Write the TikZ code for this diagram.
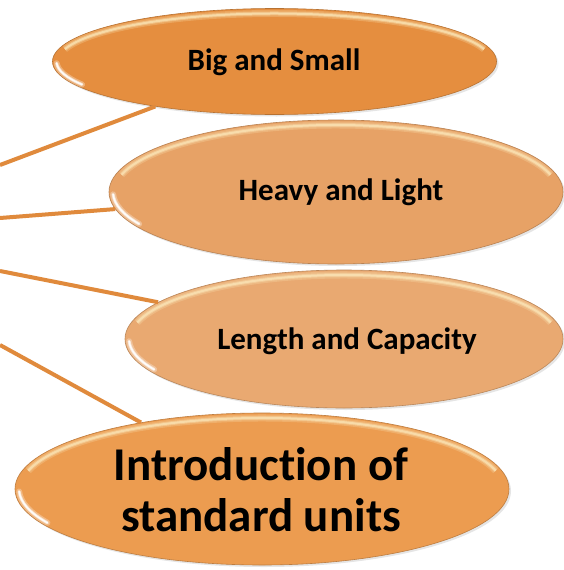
\documentclass[tikz,border=0pt]{standalone}
\usepackage{fontspec}
\setmainfont{Carlito}[Ligatures=NoCommon]
\usetikzlibrary{shapes.geometric,shadows}
\definecolor{lineC}{HTML}{E08A3C}
\definecolor{cA}{HTML}{E58E3F}
\definecolor{cB}{HTML}{E7A266}
\definecolor{cC}{HTML}{E9A971}
\definecolor{cD}{HTML}{EC9C50}
\definecolor{hl}{HTML}{FBE6B8}
\tikzset{
 blob/.style={ellipse, inner sep=0pt, draw=#1!80!black, line width=.6pt, fill=#1,
   drop shadow={opacity=.2,shadow xshift=2pt,shadow yshift=-2pt}},
 conn/.style={draw=lineC, line width=4pt},
 lbl/.style={font=\fontsize{31}{36}\selectfont\bfseries, text=black},
 bigl/.style={font=\fontsize{47}{51}\selectfont\bfseries, align=center, text=black},
}
\newcommand\glossy[4]{%
  \begin{scope}
  \clip (#1,#2) ellipse [x radius=#3, y radius=#4];
  \pgfmathsetmacro\ax{#3-5}\pgfmathsetmacro\ay{#4-5}
  \foreach \w/\o in {7/.25,4/.4,2/.7}{
   \draw[hl, line width=\w pt, opacity=\o] (#1,#2) ++(195:{\ax} and {\ay}) arc[start angle=195,end angle=345,x radius=\ax,y radius=\ay];}
  \pgfmathsetmacro\bx{#3-4}\pgfmathsetmacro\by{#4-4}
  \foreach \w/\o in {6/.3,3/.6,1.5/.9}{
   \draw[white, line width=\w pt, opacity=\o, line cap=round] (#1,#2) ++(152:{\bx} and {\by}) arc[start angle=152,end angle=178,x radius=\bx,y radius=\by];}
  \end{scope}}
\begin{document}
\begin{tikzpicture}[x=1pt,y=-1pt]
\useasboundingbox (0,0) rectangle (564,570);
\fill[white] (0,0) rectangle (564,570);
\node[blob=cA, minimum width=444pt, minimum height=106pt] (e1) at (274.5,61.5) {};
\node[blob=cB, minimum width=454pt, minimum height=144pt] (e2) at (336,192) {};
\node[blob=cC, minimum width=438pt, minimum height=138pt] (e3) at (344,339) {};
\node[blob=cD, minimum width=494pt, minimum height=152pt] (e4) at (262,489) {};
\glossy{274.5}{61.5}{222}{53}
\glossy{336}{192}{227}{72}
\glossy{344}{339}{219}{69}
\glossy{262}{489}{247}{76}
\coordinate (p1) at (0,165);
\coordinate (p2) at (0,218);
\coordinate (p3) at (0,271);
\coordinate (p4) at (0,345);
\draw[conn] (p1) -- (e1);
\draw[conn] (p2) -- (e2);
\draw[conn] (p3) -- (e3);
\draw[conn] (p4) -- (e4);
\node[lbl] (t1) at (274,62) {Big and Small};
\node[lbl] (t2) at (341,192) {Heavy and Light};
\node[lbl] (t3) at (347,341) {Length and Capacity};
\node[bigl] (t4) at (261,490) {Introduction of\\standard units};
\end{tikzpicture}
\end{document}
